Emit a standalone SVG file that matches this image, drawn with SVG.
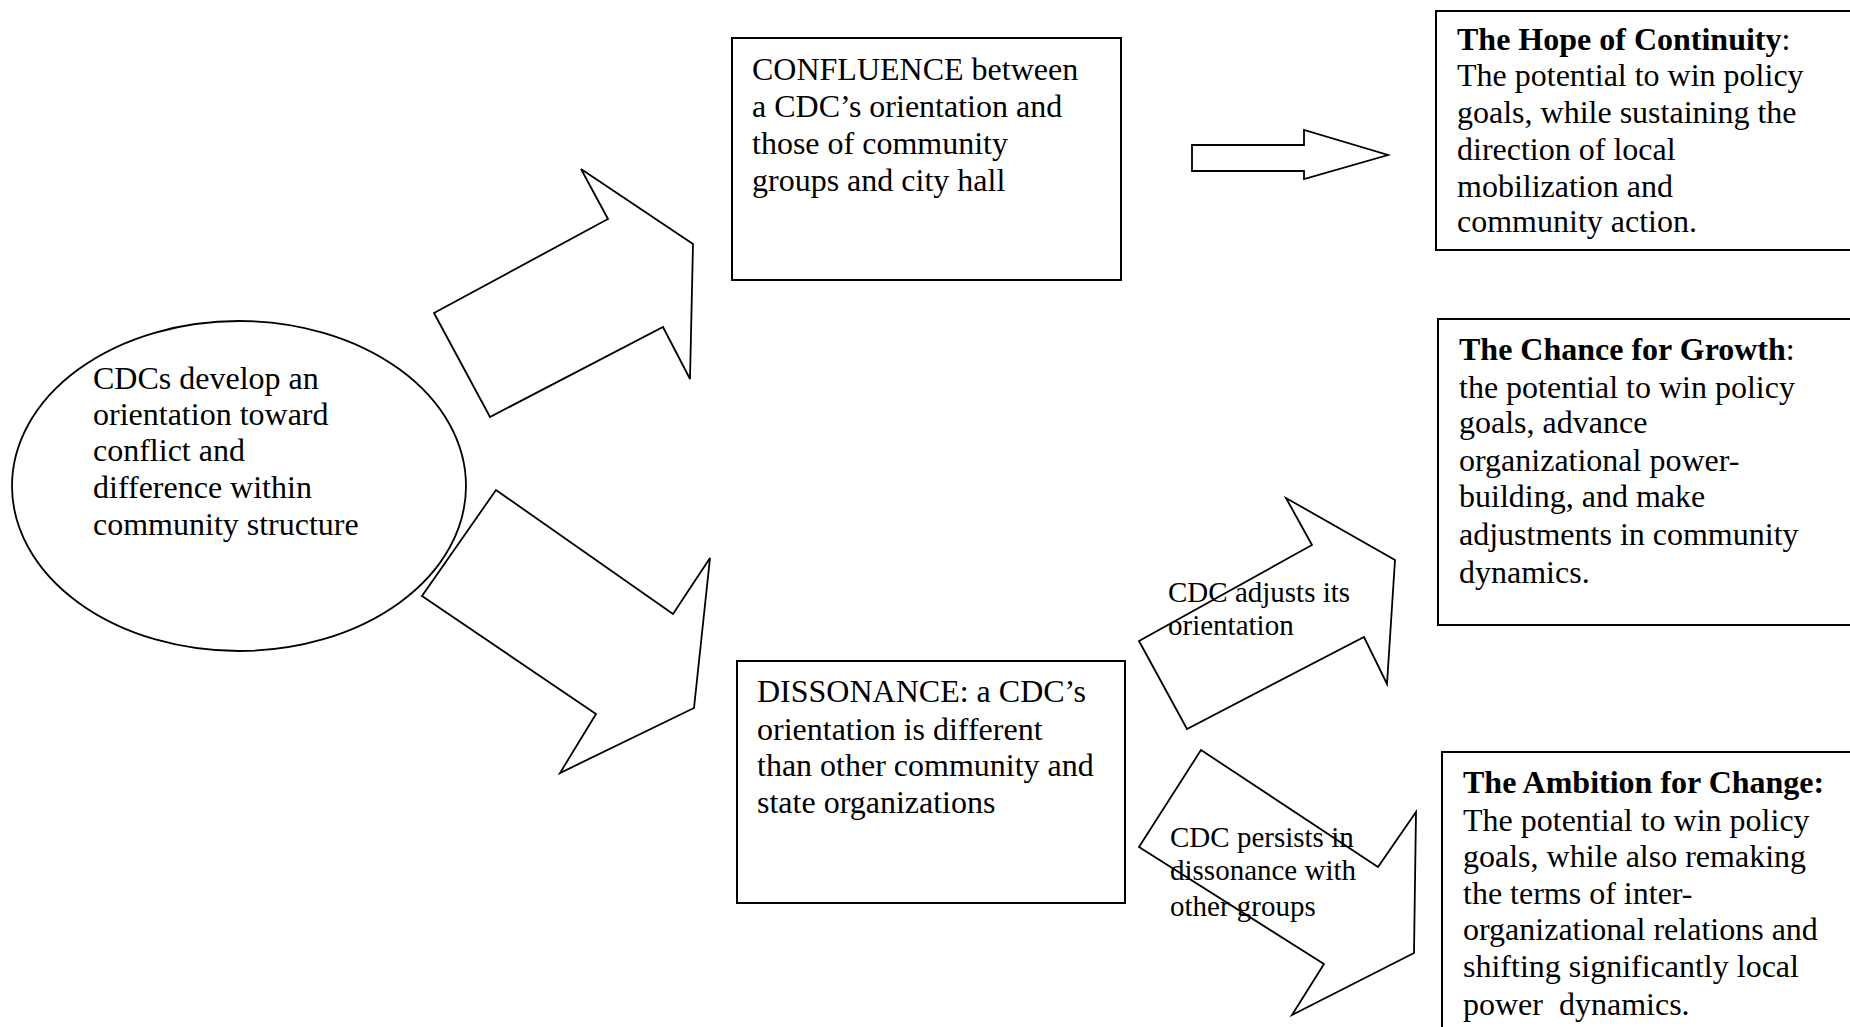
<svg xmlns="http://www.w3.org/2000/svg" width="1850" height="1027" viewBox="0 0 1850 1027">
<style>
.shape{fill:#fff;stroke:#000;stroke-width:1.8;stroke-linejoin:miter}
.box{fill:#fff;stroke:#000;stroke-width:2}
text{font-family:"Liberation Serif","Times New Roman",serif;font-size:32px;fill:#000;white-space:pre}
.sm{font-size:29px}
.b{font-weight:bold}
</style>
<rect width="1850" height="1027" fill="#fff"/>
<g id="connectors">
<polygon class="shape" points="434,313 608,219 581,169 693,244 690,379 663,327 490,417"/>
<polygon class="shape" points="496,490 673,614 710,558 694,708 560,773 596,714 422,596"/>
<polygon class="shape" points="1192,145 1304,145 1304,130 1388,155 1304,179 1304,171 1192,171"/>
<polygon class="shape" points="1139,641 1312,545 1286,498 1395,560 1387,684 1364,637 1187,729"/>
<polygon class="shape" points="1201,750 1378,867 1416,812 1414,953 1292,1015 1324,964 1139,847"/>
</g>
<g id="start">
<ellipse class="shape" cx="239" cy="486" rx="227" ry="165"/>
<text x="93" y="389">CDCs develop an</text>
<text x="93" y="425">orientation toward</text>
<text x="93" y="461">conflict and</text>
<text x="93" y="498">difference within</text>
<text x="93" y="535">community structure</text>
</g>
<g id="confluence">
<rect class="box" x="732" y="38" width="389" height="242"/>
<text x="752" y="80">CONFLUENCE between</text>
<text x="752" y="117">a CDC’s orientation and</text>
<text x="752" y="154">those of community</text>
<text x="752" y="191">groups and city hall</text>
</g>
<g id="dissonance">
<rect class="box" x="737" y="661" width="388" height="242"/>
<text x="757" y="702">DISSONANCE: a CDC’s</text>
<text x="757" y="740">orientation is different</text>
<text x="757" y="776">than other community and</text>
<text x="757" y="813">state organizations</text>
</g>
<g id="hope">
<rect class="box" x="1436" y="11" width="420" height="239"/>
<text x="1457" y="50"><tspan class="b">The Hope of Continuity</tspan>:</text>
<text x="1457" y="86">The potential to win policy</text>
<text x="1457" y="123">goals, while sustaining the</text>
<text x="1457" y="160">direction of local</text>
<text x="1457" y="197">mobilization and</text>
<text x="1457" y="232">community action.</text>
</g>
<g id="growth">
<rect class="box" x="1438" y="319" width="420" height="306"/>
<text x="1459" y="360"><tspan class="b">The Chance for Growth</tspan>:</text>
<text x="1459" y="398">the potential to win policy</text>
<text x="1459" y="433">goals, advance</text>
<text x="1459" y="471">organizational power-</text>
<text x="1459" y="507">building, and make</text>
<text x="1459" y="545">adjustments in community</text>
<text x="1459" y="583">dynamics.</text>
</g>
<g id="ambition">
<rect class="box" x="1442" y="752" width="420" height="290"/>
<text x="1463" y="793" class="b">The Ambition for Change:</text>
<text x="1463" y="831">The potential to win policy</text>
<text x="1463" y="867">goals, while also remaking</text>
<text x="1463" y="904">the terms of inter-</text>
<text x="1463" y="940">organizational relations and</text>
<text x="1463" y="977">shifting significantly local</text>
<text x="1463" y="1015">power  dynamics.</text>
</g>
<g id="labels">
<text class="sm" x="1168" y="602">CDC adjusts its</text>
<text class="sm" x="1168" y="635">orientation</text>
<text class="sm" x="1170" y="847">CDC persists in</text>
<text class="sm" x="1170" y="880">dissonance with</text>
<text class="sm" x="1170" y="916">other groups</text>
</g>
</svg>
